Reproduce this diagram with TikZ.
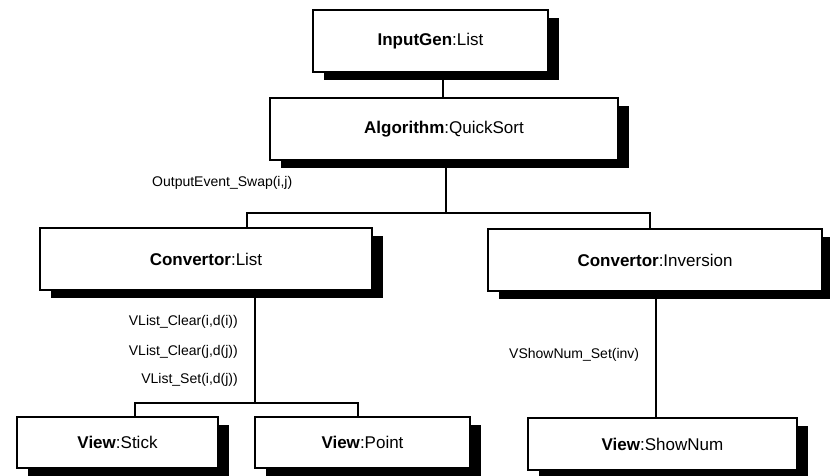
\documentclass[tikz,border=0pt]{standalone}
\usepackage{fontspec}
\setmainfont{Liberation Sans}
\begin{document}
\begin{tikzpicture}[x=1pt,y=-1pt,
  obj/.style={draw=black, line width=1.4pt, fill=white, inner sep=0pt,
    font=\fontsize{17}{20}\selectfont},
  shade/.style={fill=black},
  lbl/.style={font=\fontsize{14}{16}\selectfont, inner sep=0pt},
  conn/.style={line width=1.3pt}]
\useasboundingbox (0,0) rectangle (830,476);

% shadows (offset 11 right, 8 down)
\fill[shade] (324,18) rectangle (559,80);
\fill[shade] (281,106) rectangle (629,168);
\fill[shade] (51,236) rectangle (383,298);
\fill[shade] (499,237) rectangle (833,299);
\fill[shade] (28,425) rectangle (229,476);
\fill[shade] (266,425) rectangle (481,476);
\fill[shade] (539,426) rectangle (808,476);

% objects
\node[obj, minimum width=235pt, minimum height=62pt] (in) at (430.5,41) {\textbf{InputGen}:List};
\node[obj, minimum width=348pt, minimum height=62pt] (alg) at (444,129) {\textbf{Algorithm}:QuickSort};
\node[obj, minimum width=332pt, minimum height=62pt] (cl) at (206,259) {\textbf{Convertor}:List};
\node[obj, minimum width=334pt, minimum height=62pt] (ci) at (655,260) {\textbf{Convertor}:Inversion};
\node[obj, minimum width=201pt, minimum height=51pt] (vs) at (117.5,442.5) {\textbf{View}:Stick};
\node[obj, minimum width=215pt, minimum height=51pt] (vp) at (362.5,442.5) {\textbf{View}:Point};
\node[obj, minimum width=269pt, minimum height=52pt] (vn) at (662.5,444) {\textbf{View}:ShowNum};

% junction coordinates
\coordinate (x0) at (443,0);
\coordinate (x1) at (446,0);
\coordinate (h1) at (446,213);
\coordinate (h1l) at (247,213);
\coordinate (h1r) at (650,213);
\coordinate (x2) at (255,0);
\coordinate (h2) at (255,403);
\coordinate (h2l) at (135,403);
\coordinate (h2r) at (358,403);
\coordinate (x3) at (656,0);

% connectors
\draw[conn] (in.south -| x0) -- (alg.north -| x0);
\draw[conn] (alg.south -| x1) -- (h1);
\draw[conn] (cl.north -| h1l) -- (h1l) -- (h1r) -- (ci.north -| h1r);
\draw[conn] (cl.south -| x2) -- (h2);
\draw[conn] (vs.north -| h2l) -- (h2l) -- (h2r) -- (vp.north -| h2r);
\draw[conn] (ci.south -| x3) -- (vn.north -| x3);

% labels
\node[lbl, anchor=west] (l1) at (152,183) {OutputEvent\_Swap(i,j)};
\node[lbl, anchor=east] (l2) at (238,322) {VList\_Clear(i,d(i))};
\node[lbl, anchor=east] (l3) at (238,352) {VList\_Clear(j,d(j))};
\node[lbl, anchor=east] (l4) at (238,380) {VList\_Set(i,d(j))};
\node[lbl, anchor=west] (l5) at (509,355) {VShowNum\_Set(inv)};
\end{tikzpicture}
\end{document}
